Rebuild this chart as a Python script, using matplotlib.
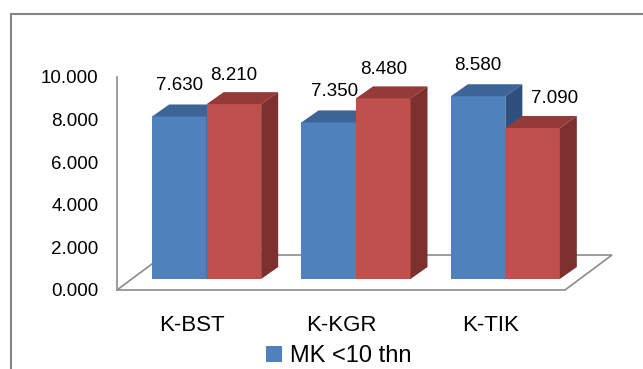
import matplotlib
matplotlib.use('Agg')
import matplotlib.pyplot as plt
from matplotlib.patches import Polygon, Patch
from matplotlib.lines import Line2D
import numpy as np

plt.rcParams['font.family'] = ['Liberation Sans', 'DejaVu Sans']

categories = ['K-BST', 'K-KGR', 'K-TIK']
series1 = [7.630, 7.350, 8.580]   # blue
series2 = [8.210, 8.480, 7.090]   # red
legend_name = 'MK <10 thn'
yticks = [0, 2, 4, 6, 8, 10]

W, H = 643, 369
fig = plt.figure(figsize=(W / 100, H / 100), dpi=100)

# axes = front edge of the floor, value scale on the left
ax = fig.add_axes([117 / W, 1 - 290 / H, 448 / W, 213 / H])
ax.set_xlim(0, 3)
ax.set_ylim(0, 10)
for s in ['top', 'right', 'bottom']:
    ax.spines[s].set_visible(False)
ax.spines['left'].set_color('#8c8c8c')
ax.spines['left'].set_linewidth(1.2)
ax.set_yticks(yticks)
ax.set_yticklabels(['{:.3f}'.format(t) for t in yticks], fontsize=13.5)
ax.tick_params(axis='y', length=0, pad=13.5)
ax.set_xticks(np.arange(len(categories)) + 0.5)
ax.set_xticklabels(categories, fontsize=16)
ax.tick_params(axis='x', length=0, pad=18)
ax.patch.set_visible(False)

# pixel -> data units
p0 = ax.transData.transform((0, 0))
p1 = ax.transData.transform((1, 1))
sx = p1[0] - p0[0]
sy = p1[1] - p0[1]

def px(dx, dy):
    return dx / sx, dy / sy

# floor
fdx, fdy = px(47, 35)
floor = Polygon([(0, 0), (3, 0), (3 + fdx, fdy), (fdx, fdy)], closed=True,
                facecolor='white', edgecolor='#8c8c8c', lw=1.2, zorder=1, clip_on=False)
ax.add_patch(floor)

ox, oy = px(15, 11)   # bar front offset from floor front
ddx, ddy = px(17, 12)  # bar depth

def bar3d(x0, x1, v, front, top, side):
    a = (x0 + ox, oy)
    b = (x1 + ox, oy)
    c = (x1 + ox, v + oy)
    d = (x0 + ox, v + oy)
    ax.add_patch(Polygon([a, b, c, d], closed=True, fc=front, ec='none', zorder=3,
                         clip_on=False))
    ax.add_patch(Polygon([d, c, (c[0] + ddx, c[1] + ddy), (d[0] + ddx, d[1] + ddy)],
                         closed=True, fc=top, ec='none', zorder=3, clip_on=False))
    ax.add_patch(Polygon([b, (b[0] + ddx, b[1] + ddy), (c[0] + ddx, c[1] + ddy), c],
                         closed=True, fc=side, ec='none', zorder=3, clip_on=False))

bw = 0.365
label_nudge1 = [0, 6, 0]
label_nudge2 = [0, 0, 22]
for i in range(len(categories)):
    cx = i + 0.5
    bar3d(cx - bw, cx, series1[i], '#4F81BD', '#3C6496', '#2F507D')
    bar3d(cx, cx + bw, series2[i], '#C0504D', '#943A38', '#7D302E')
    ax.annotate('{:.3f}'.format(series1[i]), xy=(cx - bw / 2, series1[i]),
                xytext=(15 + label_nudge1[i], 11 + 31), textcoords='offset pixels',
                ha='center', va='center', fontsize=13.5, zorder=5, annotation_clip=False)
    ax.annotate('{:.3f}'.format(series2[i]), xy=(cx + bw / 2, series2[i]),
                xytext=(15 + label_nudge2[i], 11 + 29), textcoords='offset pixels',
                ha='center', va='center', fontsize=13.5, zorder=5, annotation_clip=False)

leg = fig.legend(handles=[Patch(facecolor='#4F81BD', edgecolor='none', label=legend_name)],
                 loc='center', bbox_to_anchor=(339 / W, 1 - 356 / H), frameon=False,
                 fontsize=17, handlelength=0.68, handleheight=0.64, handletextpad=0.35,
                 borderpad=0, borderaxespad=0)

# outer chart frame (cropped on right and bottom)
fig.add_artist(Line2D([11 / W, 1.01], [1 - 14 / H, 1 - 14 / H], color='#868686', lw=1.5))
fig.add_artist(Line2D([11 / W, 11 / W], [1 - 14 / H, -0.01], color='#868686', lw=1.5))

plt.savefig('out.png', dpi=100)
plt.close()
